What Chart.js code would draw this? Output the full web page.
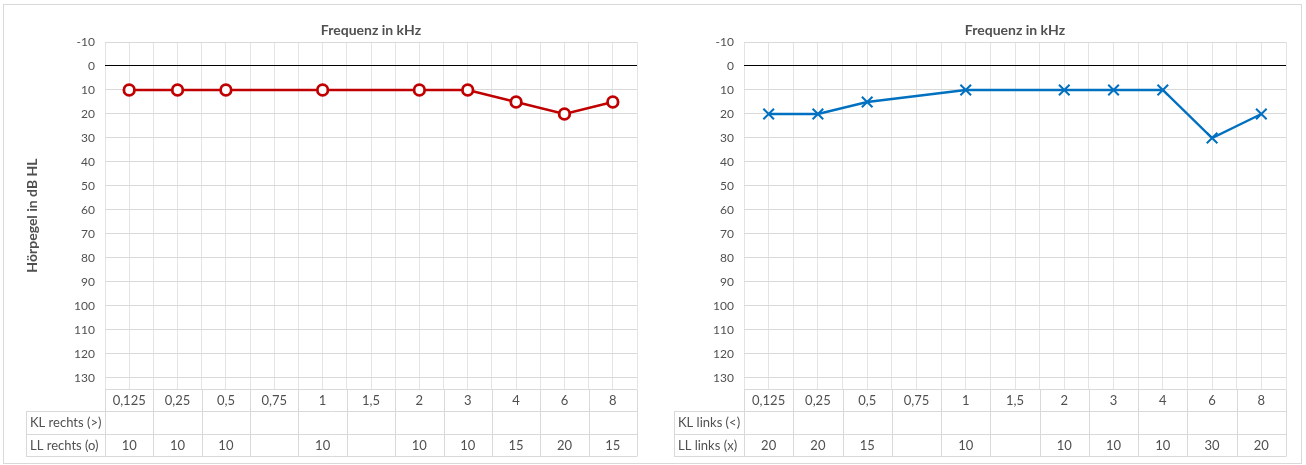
<!DOCTYPE html>
<html>
<head>
<meta charset="utf-8">
<script src="https://cdn.jsdelivr.net/npm/chart.js@4"></script>
<style>
  html, body { margin: 0; padding: 0; background: #fff; }
  body { width: 1306px; height: 465px; position: relative; overflow: hidden; }
  .panel { position: absolute; top: 4px; height: 458px; border: 1px solid #D9D9D9; background: #fff; }
  #p1 { left: 3px; width: 648px; }
  #p2 { left: 652px; width: 649px; border-left: none; }
  canvas { display: block; }
</style>
</head>
<body>
<div class="panel" id="p1"><canvas id="c1" width="648" height="458"></canvas></div>
<div class="panel" id="p2"><canvas id="c2" width="649" height="458"></canvas></div>
<script>
// ---- data ----
const categories = ['0,125', '0,25', '0,5', '0,75', '1', '1,5', '2', '3', '4', '6', '8'];
const klRechts = [null, null, null, null, null, null, null, null, null, null, null];
const llRechts = [10, 10, 10, null, 10, null, 10, 10, 15, 20, 15];
const klLinks = [null, null, null, null, null, null, null, null, null, null, null];
const llLinks = [20, 20, 15, null, 10, null, 10, 10, 10, 30, 20];
const yMin = -10;
const yMaxTick = 130;
const yStep = 10;

const FONT = 'Lato, Carlito, Calibri, "Open Sans", sans-serif';
const TXT = '#505050';
const GRID = '#D9D9D9';
const VGRID = '#E4E4E4';

function tablePlugin(rows) {
  return {
    id: 'dataTable',
    afterDraw(chart) {
      const ctx = chart.ctx;
      const xs = chart.scales.x;
      const area = chart.chartArea;
      const labelLeft = 22;
      const top = area.bottom;
      const rowH = 22.4;
      const n = categories.length;
      const px = v => Math.round(v) + 0.5;
      ctx.save();
      ctx.strokeStyle = GRID;
      ctx.lineWidth = 1;
      ctx.beginPath();
      ctx.moveTo(area.left, px(top)); ctx.lineTo(area.right, px(top));
      for (let r = 1; r <= rows.length; r++) {
        const y = px(top + r * rowH);
        ctx.moveTo(labelLeft, y); ctx.lineTo(area.right, y);
      }
      const bottom = px(top + rows.length * rowH);
      for (let i = 0; i <= n; i++) {
        const x = px(xs.getPixelForValue(i - 0.5));
        ctx.moveTo(x, px(top)); ctx.lineTo(x, bottom);
      }
      ctx.moveTo(px(labelLeft), px(top + rowH)); ctx.lineTo(px(labelLeft), bottom);
      ctx.stroke();

      ctx.fillStyle = TXT;
      ctx.font = '13px ' + FONT;
      ctx.textBaseline = 'middle';
      rows.forEach((row, r) => {
        const yc = top + (r + 0.5) * rowH + 0.5;
        if (row.label) {
          ctx.textAlign = 'left';
          ctx.fillText(row.label, labelLeft + 4, yc);
        }
        ctx.textAlign = 'center';
        row.values.forEach((v, i) => {
          if (v === null || v === undefined) return;
          ctx.fillText(String(v), xs.getPixelForValue(i), yc);
        });
      });
      ctx.restore();
    }
  };
}

function makeChart(canvasId, opts) {
  const data = opts.values.map((v, i) => ({ x: i, y: v }));
  return new Chart(document.getElementById(canvasId), {
    type: 'line',
    data: {
      datasets: [{
        data: data,
        borderColor: opts.color,
        borderWidth: 2.4,
        pointStyle: opts.pointStyle,
        pointRadius: opts.pointRadius,
        pointHoverRadius: opts.pointRadius,
        pointBorderColor: opts.color,
        pointBackgroundColor: opts.pointFill,
        pointBorderWidth: opts.pointBorderWidth,
        spanGaps: true,
        tension: 0,
        clip: false
      }]
    },
    options: {
      responsive: false,
      animation: false,
      devicePixelRatio: 1,
      events: [],
      layout: { padding: { left: 0, right: 15, top: 0, bottom: 0 }, autoPadding: false },
      plugins: {
        legend: { display: false },
        tooltip: { enabled: false },
        title: {
          display: true,
          text: 'Frequenz in kHz',
          fullSize: false,
          color: TXT,
          font: { family: FONT, size: 14, weight: 'bold', lineHeight: 1.2 },
          padding: { top: 17, bottom: 3.2 }
        }
      },
      scales: {
        x: {
          type: 'linear',
          position: 'bottom',
          min: -0.5,
          max: categories.length - 0.5,
          ticks: { display: false, stepSize: 0.5 },
          grid: { color: VGRID, drawTicks: false, lineWidth: 1 },
          border: { display: false },
          afterFit(s) { s.height = 74; }
        },
        y: {
          type: 'linear',
          reverse: true,
          min: yMin,
          max: 134.6,
          ticks: {
            stepSize: yStep,
            includeBounds: false,
            color: TXT,
            font: { family: FONT, size: 12 },
            padding: 10,
            callback: v => (v <= yMaxTick ? String(v) : '')
          },
          grid: {
            drawTicks: false,
            color: c => (c.tick && c.tick.value === 0 ? '#000000' : GRID),
            lineWidth: 1
          },
          border: { display: false },
          title: opts.yTitle ? {
            display: true,
            text: opts.yTitle,
            color: TXT,
            font: { family: FONT, size: 14, weight: 'bold', lineHeight: 1.2 },
            padding: { top: 20, bottom: 0 }
          } : { display: false },
          afterFit(s) { s.width = opts.yWidth; }
        }
      }
    },
    plugins: [tablePlugin(opts.rows)]
  });
}

makeChart('c1', {
  values: llRechts,
  color: '#C00000',
  pointStyle: 'circle',
  pointRadius: 5.3,
  pointFill: '#FFFFFF',
  pointBorderWidth: 2.8,
  yTitle: 'Hörpegel in dB HL',
  yWidth: 101,
  rows: [
    { label: null, values: categories },
    { label: 'KL rechts (>)', values: klRechts },
    { label: 'LL rechts (o)', values: llRechts }
  ]
});

makeChart('c2', {
  values: llLinks,
  color: '#0070C0',
  pointStyle: 'crossRot',
  pointRadius: 7.5,
  pointFill: '#0070C0',
  pointBorderWidth: 2,
  yTitle: null,
  yWidth: 92,
  rows: [
    { label: null, values: categories },
    { label: 'KL links (<)', values: klLinks },
    { label: 'LL links (x)', values: llLinks }
  ]
});
</script>
</body>
</html>
